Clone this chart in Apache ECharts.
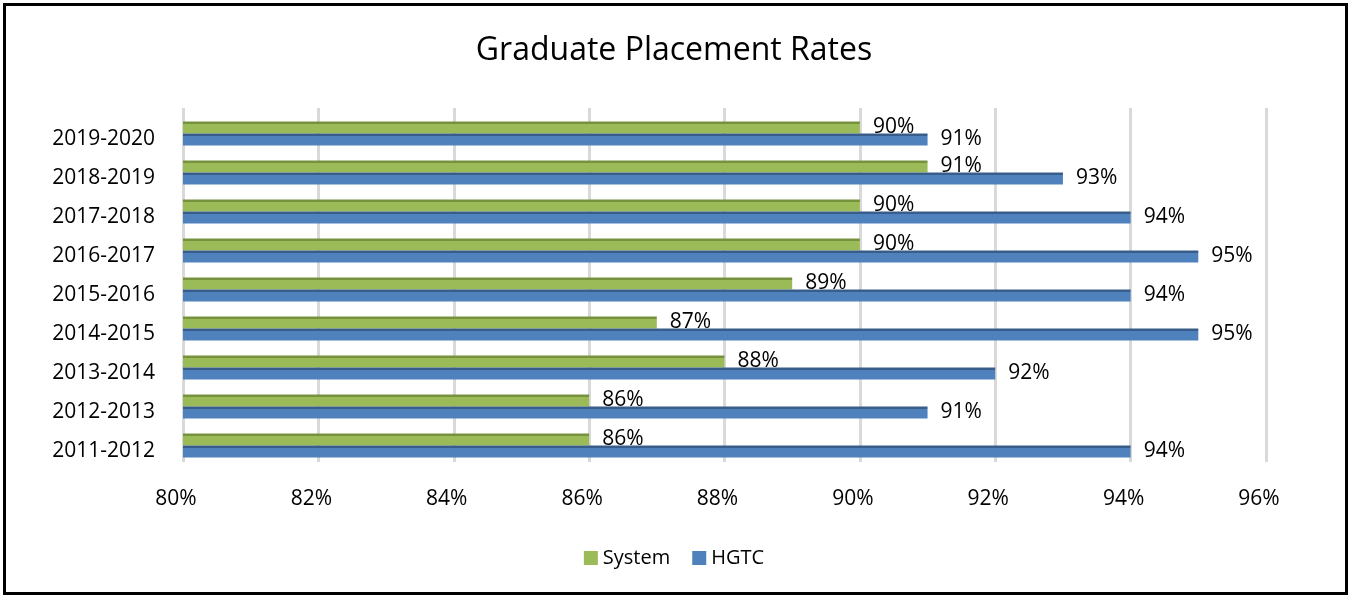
<!DOCTYPE html>
<html>
<head>
<meta charset="utf-8">
<script src="https://cdn.jsdelivr.net/npm/echarts@6/dist/echarts.min.js"></script>
<style>
html,body{margin:0;padding:0;background:#fff;}
#frame{position:absolute;left:3px;top:3px;width:1345px;height:592px;box-sizing:border-box;border:3px solid #000;}
#chart{position:absolute;left:0;top:0;width:1348px;height:595px;}
</style>
</head>
<body>
<div id="frame"></div>
<div id="chart"></div>
<script>
const years = ['2011-2012','2012-2013','2013-2014','2014-2015','2015-2016','2016-2017','2017-2018','2018-2019','2019-2020'];
const systemRates = [86, 86, 88, 87, 89, 90, 90, 91, 90];
const hgtcRates = [94, 91, 92, 95, 94, 95, 94, 93, 91];
const xTicks = { min: 80, max: 96, interval: 2 };

const FONT = 'Open Sans';
function grad(dark, base){
  return new echarts.graphic.LinearGradient(0,0,0,1,[
    {offset:0,color:dark},{offset:0.17,color:dark},{offset:0.17,color:base},{offset:1,color:base}
  ]);
}
const chart = echarts.init(document.getElementById('chart'), null, {renderer:'canvas'});
const labelCfg = {
  show:true, position:'right', distance:13, formatter:'{c}%',
  color:'#000', fontFamily:FONT, fontSize:21
};
chart.setOption({
  animation:false,
  backgroundColor:'transparent',
  title:{
    text:'Graduate Placement Rates', left:'center', top:30,
    textStyle:{fontFamily:FONT, fontSize:32, fontWeight:'normal', color:'#000'}
  },
  legend:{
    data:[
      {name:'System', itemStyle:{color:'#9bbb59'}},
      {name:'HGTC', itemStyle:{color:'#4f81bd'}}
    ],
    left:'center', top:543,
    itemWidth:14, itemHeight:14, itemGap:22,
    icon:'rect',
    textStyle:{fontFamily:FONT, fontSize:20, color:'#000'}
  },
  grid:[
    {left:183, right:82, top:114, bottom:130},
    {left:183, right:82, top:108, bottom:133}
  ],
  xAxis:[
    {
      type:'value', gridIndex:0, min:xTicks.min, max:xTicks.max, interval:xTicks.interval,
      axisLine:{show:false}, axisTick:{show:false}, splitLine:{show:false},
      axisLabel:{formatter:'{value}%', fontFamily:FONT, fontSize:21, color:'#000', margin:24, padding:[0,14,0,0]}
    },
    {
      type:'value', gridIndex:1, min:xTicks.min, max:xTicks.max, interval:xTicks.interval,
      axisLine:{show:false}, axisTick:{show:false}, axisLabel:{show:false},
      splitLine:{show:true, lineStyle:{color:'#d9d9d9', width:3}}
    }
  ],
  yAxis:[
    {
      type:'category', gridIndex:0, data:years,
      axisLine:{show:false}, axisTick:{show:false},
      axisLabel:{
        fontFamily:FONT, fontSize:21, color:'#000', margin:28,
        formatter: v => '{a|' + v + '}',
        rich:{a:{fontFamily:FONT, fontSize:21, color:'#000', padding:[12,0,0,0]}}
      }
    },
    {
      type:'category', gridIndex:1, data:years, show:false
    }
  ],
  series:[
    {
      name:'System', type:'bar', xAxisIndex:0, yAxisIndex:0, data:systemRates, barWidth:12, barGap:'0%',
      itemStyle:{color:grad('#76923c','#9bbb59')},
      label:labelCfg, z:3
    },
    {
      name:'HGTC', type:'bar', xAxisIndex:0, yAxisIndex:0, data:hgtcRates, barWidth:12, barGap:'0%',
      itemStyle:{color:grad('#385d8a','#4f81bd')},
      label:labelCfg, z:3
    }
  ]
});
</script>
</body>
</html>
